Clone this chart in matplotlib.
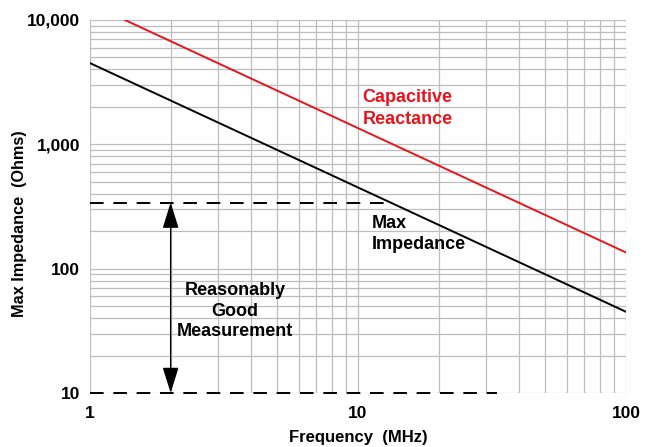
import numpy as np
import matplotlib
matplotlib.use("Agg")
import matplotlib.pyplot as plt
from matplotlib.ticker import FixedLocator, LogLocator, NullFormatter

plt.rcParams['font.family'] = ['Liberation Sans', 'DejaVu Sans']

# Data
freq = [1.0, 100.0]                       # MHz
max_impedance = [4500.0, 45.0]            # Ohms
cap_freq = [1.35, 100.0]                  # MHz
cap_reactance = [10000.0, 135.0]          # Ohms
upper_limit = 340.0                       # Ohms
lower_limit = 10.0                        # Ohms
upper_limit_end = 13.3                    # MHz
lower_limit_end = 33.0                    # MHz
arrow_freq = 2.0                          # MHz
x_ticks = [1, 10, 100]
x_tick_labels = ["1", "10", "100"]
y_ticks = [10, 100, 1000, 10000]
y_tick_labels = ["10", "100", "1,000", "10,000"]

fig = plt.figure(figsize=(6.45, 4.47), dpi=100)
ax = fig.add_axes([0.1395, 0.1208, 0.8310, 0.8345])
ax.set_xscale('log')
ax.set_yscale('log')
ax.set_xlim(1, 100)
ax.set_ylim(10, 10000)

grid_color = '#bdbdbd'
ax.xaxis.set_major_locator(FixedLocator(x_ticks))
ax.yaxis.set_major_locator(FixedLocator(y_ticks))
ax.xaxis.set_minor_locator(LogLocator(base=10, subs=np.arange(2, 10)))
ax.yaxis.set_minor_locator(LogLocator(base=10, subs=np.arange(2, 10)))
ax.xaxis.set_minor_formatter(NullFormatter())
ax.yaxis.set_minor_formatter(NullFormatter())
ax.set_xticklabels(x_tick_labels, fontsize=12.5, fontweight='bold')
ax.set_yticklabels(y_tick_labels, fontsize=12.5, fontweight='bold')
ax.tick_params(which='both', length=0)
ax.tick_params(axis='x', pad=9)
ax.tick_params(axis='y', pad=7)
ax.grid(True, which='both', color=grid_color, lw=0.9)
ax.set_axisbelow(True)
for s in ax.spines.values():
    s.set_visible(False)

# Curves
ax.plot(freq, max_impedance, color='black', lw=1.4)
ax.plot(cap_freq, cap_reactance, color='#e8141b', lw=1.4)

# Measurement limits
ax.plot([1, upper_limit_end], [upper_limit, upper_limit], color='black', lw=1.4,
        dashes=(7, 5), clip_on=False)
ax.plot([1, lower_limit_end], [lower_limit, lower_limit], color='black', lw=1.4,
        dashes=(7, 5), clip_on=False)

ax.annotate('', xy=(arrow_freq, upper_limit), xytext=(arrow_freq, lower_limit),
            arrowprops=dict(arrowstyle='<|-|>,head_length=1.6,head_width=0.5',
                            mutation_scale=10, color='black', lw=1.0,
                            shrinkA=0, shrinkB=0))

# Labels
ax.text(10.4, 1940, "Capacitive\nReactance", color='#e8141b', fontsize=13,
        fontweight='bold', ha='left', va='center', linespacing=1.4)
ax.text(11.3, 190, "Max\nImpedance", color='black', fontsize=13,
        fontweight='bold', ha='left', va='center', linespacing=1.3)
ax.text(3.48, 45.6, "Reasonably\nGood\nMeasurement", color='black', fontsize=13,
        fontweight='bold', ha='center', va='center', linespacing=1.3)

ax.set_xlabel("Frequency  (MHz)", fontsize=12, fontweight='bold', labelpad=7)
ax.set_ylabel("Max Impedance  (Ohms)", fontsize=11.7, fontweight='bold')
ax.yaxis.set_label_coords(-0.117, 0.453)

fig.savefig("out.png", dpi=100)
